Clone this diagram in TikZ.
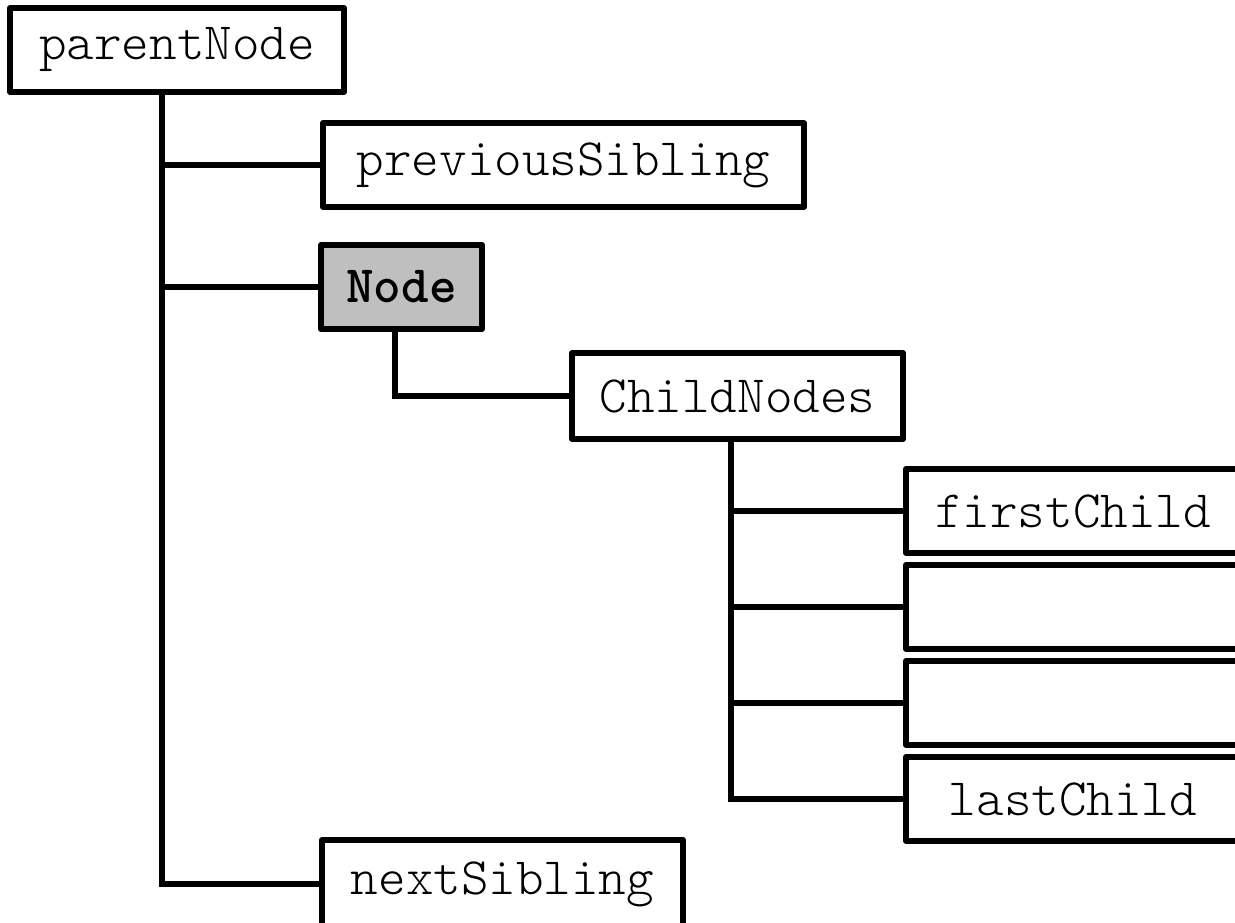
\documentclass[tikz,border=0pt]{standalone}
\usepackage{fontspec}
\newfontfamily\treemono{Latin Modern Mono Light}
\begin{document}
\begin{tikzpicture}[x=1pt,y=-1pt,
  box/.style={draw=black, line width=6pt, line join=round, fill=white,
    inner sep=0pt, minimum height=84pt, font={\treemono\fontsize{52.5pt}{56pt}\selectfont}},
  current/.style={box, fill=black!25, font={\treemono\bfseries\fontsize{52.5pt}{56pt}\selectfont}},
  wire/.style={draw=black, line width=6pt, line join=miter}]
\useasboundingbox (0,0) rectangle (1235,923);
\clip (0,0) rectangle (1235,923);
\fill[white] (0,0) rectangle (1235,923);

% the node and its relatives
\node[box, minimum width=334pt] (parent) at (177,50) {parentNode};
\node[box, minimum width=481pt] (prev) at (563.5,165) {previousSibling};
\node[current, minimum width=161pt] (self) at (401.5,287) {Node};
\node[box, minimum width=331pt, minimum height=86pt] (kids) at (737.5,396) {ChildNodes};
\node[box, minimum width=361pt, minimum height=88pt] (next) at (502.5,884) {nextSibling};

% the list of children, running off the right edge
\node[box, minimum width=334pt] (first) at (1073,511) {firstChild};
\node[box, minimum width=334pt] (kid2) at (1073,607) {};
\node[box, minimum width=334pt] (kid3) at (1073,703) {};
\node[box, minimum width=334pt] (last) at (1073,799) {lastChild};

% trunk below the parent
\coordinate (ptrunk) at ([xshift=-15pt]parent.south);
\draw[wire] (ptrunk) |- (next.west);
\draw[wire] (ptrunk |- prev.west) -- (prev.west);
\draw[wire] (ptrunk |- self.west) -- (self.west);

% from the node to its child list
\draw[wire] ([xshift=-7pt]self.south) |- (kids.west);

% trunk below the child list
\coordinate (ktrunk) at ([xshift=-7pt]kids.south);
\draw[wire] (ktrunk) |- (last.west);
\draw[wire] (ktrunk |- first.west) -- (first.west);
\draw[wire] (ktrunk |- kid2.west) -- (kid2.west);
\draw[wire] (ktrunk |- kid3.west) -- (kid3.west);
\end{tikzpicture}
\end{document}
